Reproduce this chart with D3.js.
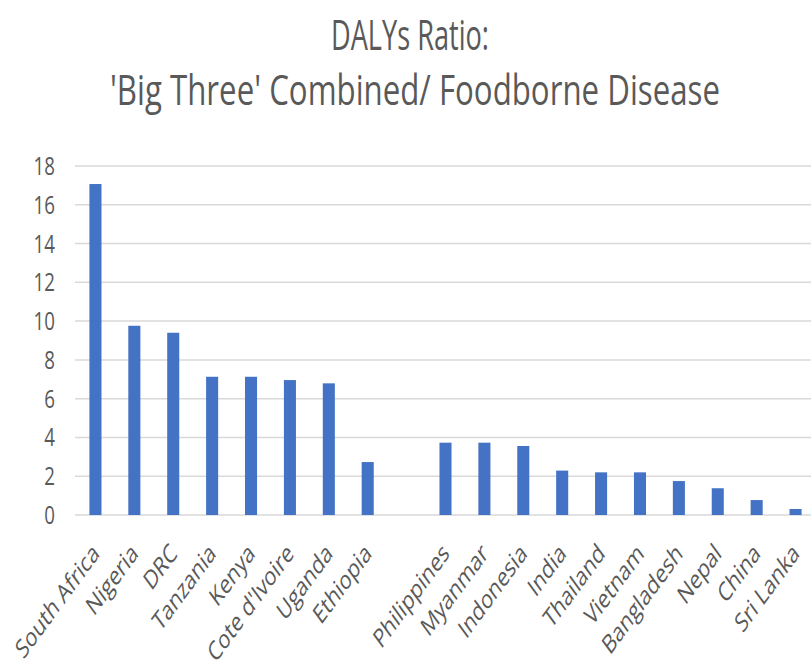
<!DOCTYPE html>
<html lang="en">
<head>
<meta charset="utf-8" />
<title>DALYs Ratio</title>
<style>
  body { margin: 0; padding: 0; background: #fff; }
  svg { display: block; font-family: "Open Sans", Arial, sans-serif; }
  .grid line { stroke: #d9d9d9; stroke-width: 1.5px; }
  .lbl { fill: #595959; }
</style>
</head>
<body>
<div id="chart"></div>
<script src="https://d3js.org/d3.v7.min.js"></script>
<script>
// two groups of countries, separated by an empty slot on the axis
const africa = ['South Africa', 'Nigeria', 'DRC', 'Tanzania', 'Kenya', "Cote d'Ivoire", 'Uganda', 'Ethiopia'];
const africaValues = [17.07, 9.76, 9.4, 7.13, 7.13, 6.96, 6.79, 2.73];
const asia = ['Philippines', 'Myanmar', 'Indonesia', 'India', 'Thailand', 'Vietnam', 'Bangladesh', 'Nepal', 'China', 'Sri Lanka'];
const asiaValues = [3.73, 3.73, 3.56, 2.29, 2.2, 2.2, 1.75, 1.38, 0.77, 0.31];
const yTicks = [0, 2, 4, 6, 8, 10, 12, 14, 16, 18];
const titleLines = ['DALYs Ratio:', "'Big Three' Combined/ Foodborne Disease"];

const width = 811, height = 672;
const stretch = 1.5; // the source picture is stretched vertically

const data = africa.map((c, i) => ({ c, v: africaValues[i] }))
  .concat(asia.map((c, i) => ({ c, v: asiaValues[i] })));
const domain = [...africa, '', ...asia];

const svg = d3.select('#chart').append('svg')
    .attr('width', width)
    .attr('height', height);

const x = d3.scaleBand().domain(domain).range([76, 815]).paddingInner(0.69).paddingOuter(0.345);
const y = d3.scaleLinear().domain([0, 18]).range([515, 166]);

// title
const titleW = [158, 610];
const titleY = [50, 105];
titleLines.forEach((t, i) => {
  svg.append('text')
      .attr('class', 'lbl')
      .attr('text-anchor', 'middle')
      .attr('font-size', 28)
      .attr('textLength', titleW[i])
      .attr('lengthAdjust', 'spacingAndGlyphs')
      .attr('transform', `translate(${i === 0 ? 410 : 415},${titleY[i]}) scale(1,${stretch})`)
      .text(t);
});

// gridlines
svg.append('g').attr('class', 'grid')
  .selectAll('line')
  .data(yTicks)
  .enter().append('line')
    .attr('x1', 75).attr('x2', width)
    .attr('y1', d => y(d)).attr('y2', d => y(d));

// y labels
svg.append('g')
  .selectAll('text')
  .data(yTicks)
  .enter().append('text')
    .attr('class', 'lbl')
    .attr('text-anchor', 'end')
    .attr('font-size', 17)
    .attr('transform', d => `translate(55,${y(d) + 9}) scale(1.1,${stretch})`)
    .text(d => d);

// bars
svg.append('g')
  .selectAll('rect')
  .data(data)
  .enter().append('rect')
    .attr('x', d => x(d.c))
    .attr('width', x.bandwidth())
    .attr('y', d => y(d.v))
    .attr('height', d => y(0) - y(d.v))
    .attr('fill', '#4472c4');

// x labels, rotated
svg.append('g')
  .selectAll('text')
  .data(data)
  .enter().append('text')
    .attr('class', 'lbl')
    .attr('text-anchor', 'end')
    .attr('font-size', 17.5)
    .attr('transform', d => `translate(${x(d.c) + x.bandwidth() / 2 + 5},${555}) scale(1.1,${stretch}) rotate(-45)`)
    .text(d => d.c);
</script>
</body>
</html>
